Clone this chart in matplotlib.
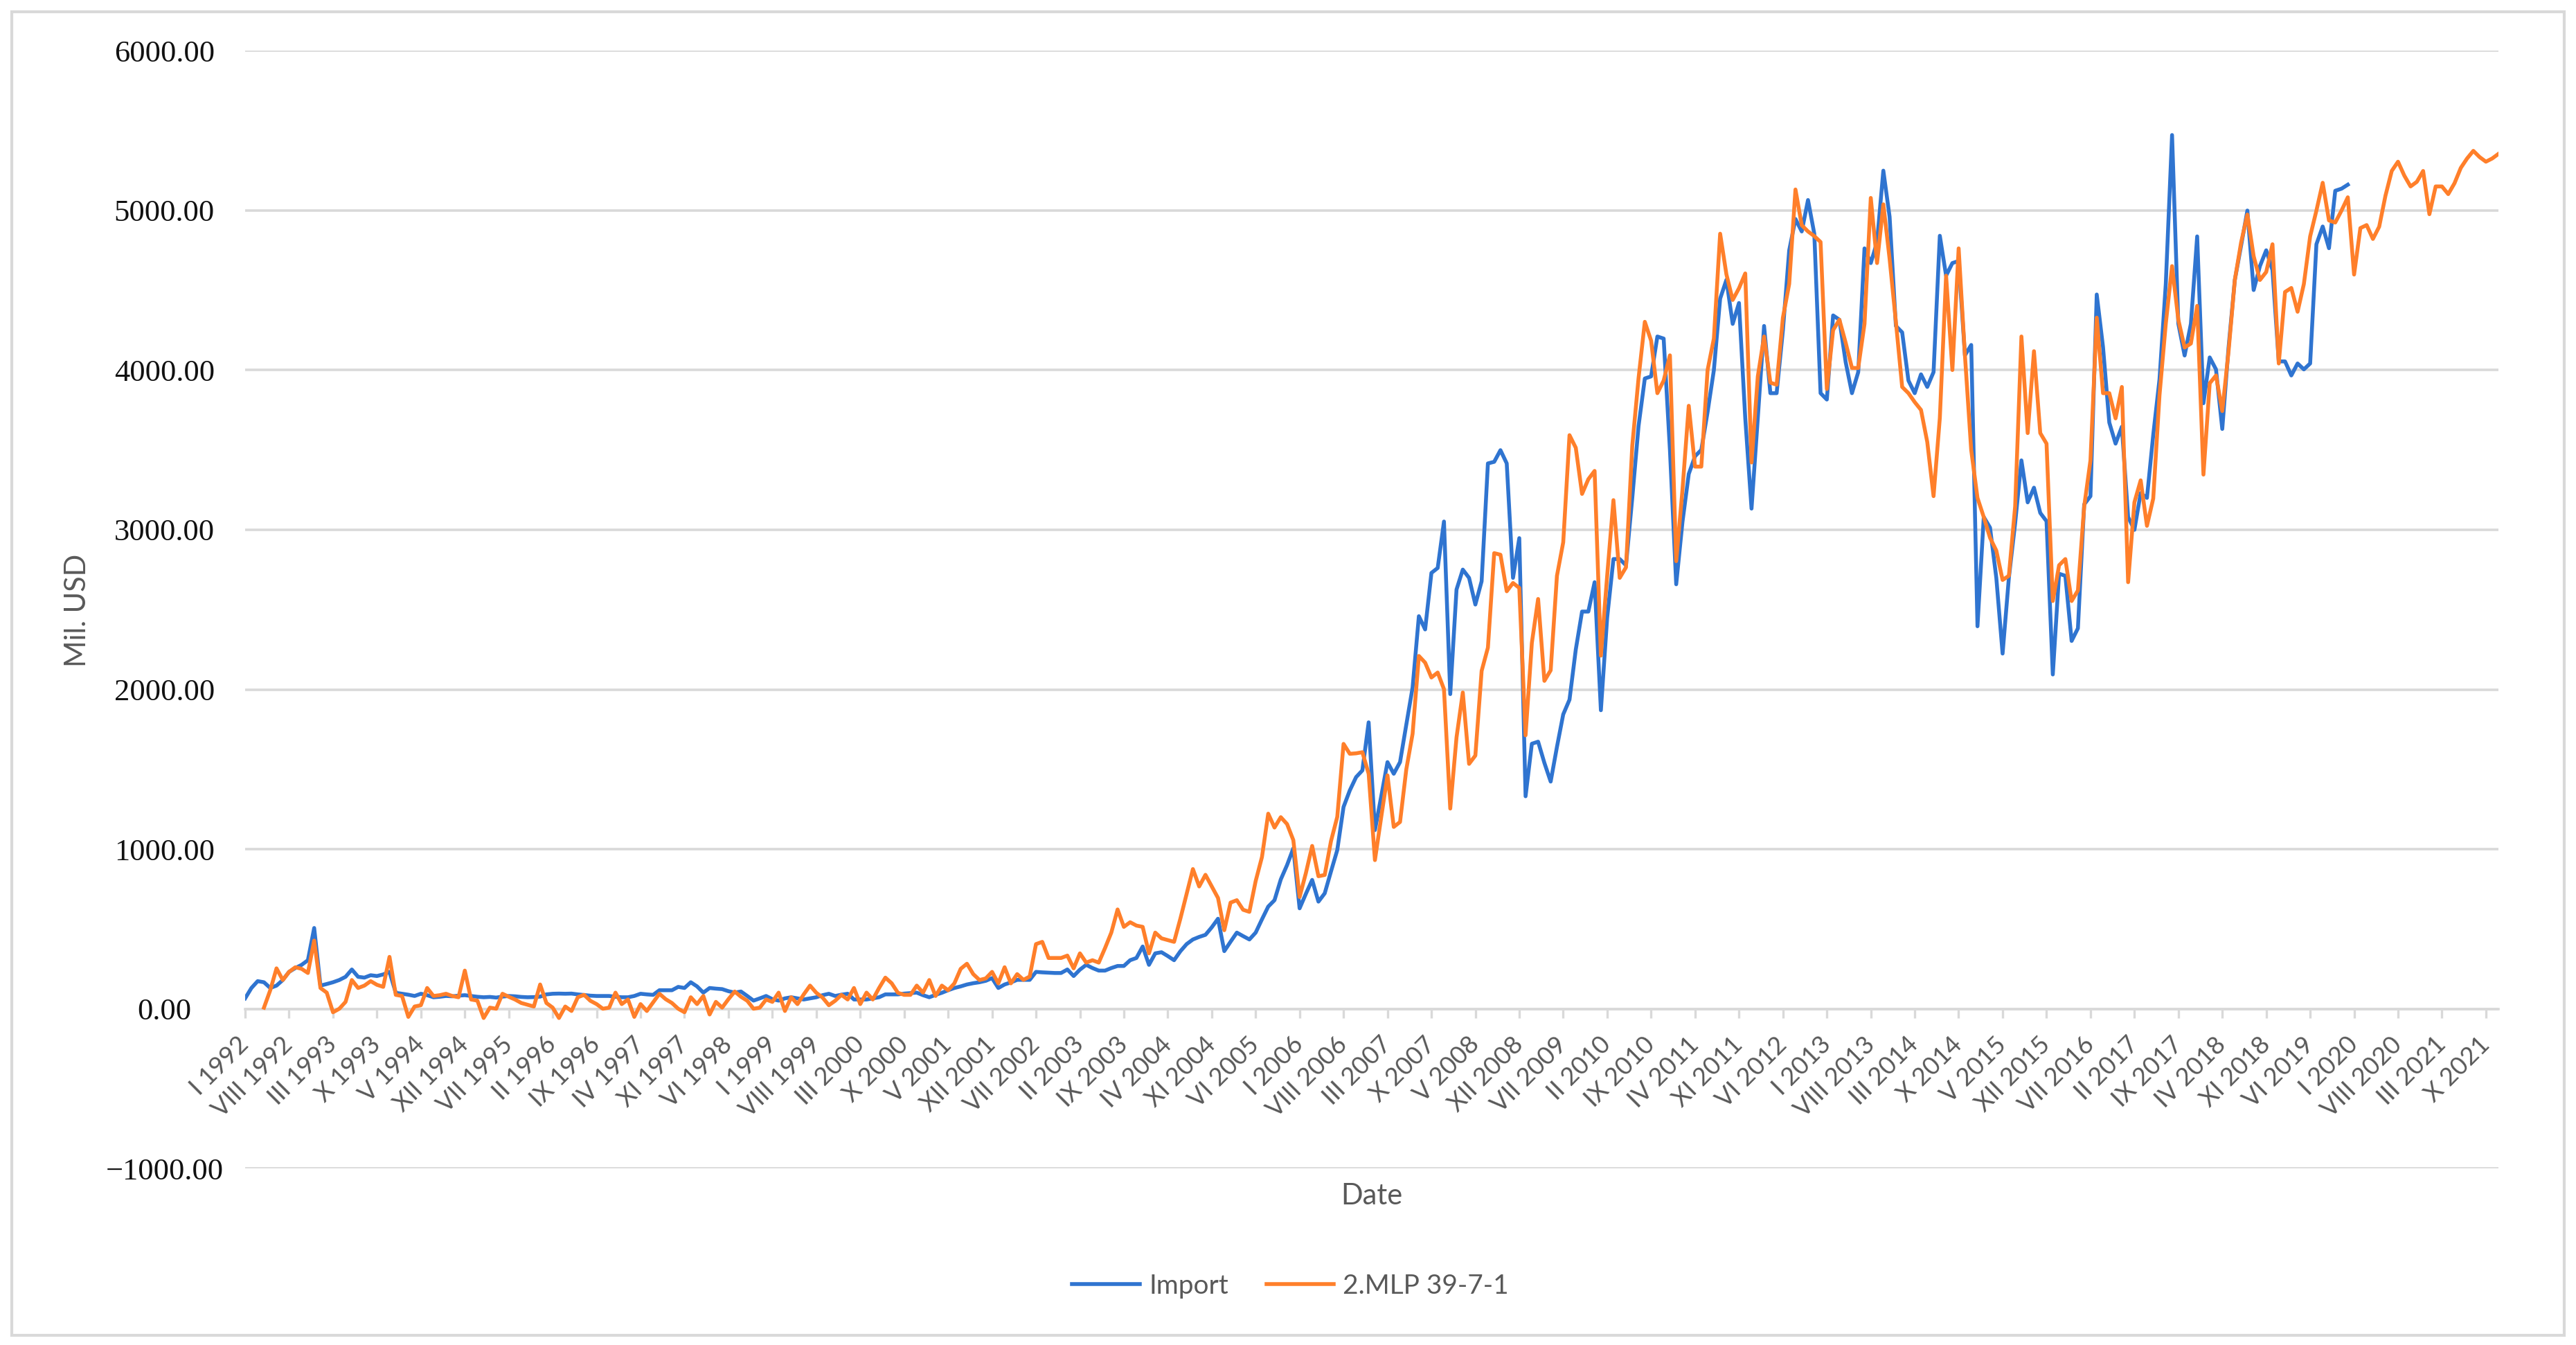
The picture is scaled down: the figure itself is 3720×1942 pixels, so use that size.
import numpy as np
import matplotlib
matplotlib.use('Agg')
import matplotlib.pyplot as plt
from matplotlib.patches import Rectangle

# monthly series, I 1992 .. XII 2021 (360 months)
ROMAN = ['I', 'II', 'III', 'IV', 'V', 'VI', 'VII', 'VIII', 'IX', 'X', 'XI', 'XII']
FIRST_YEAR = 1992
N_MONTHS = 360
LABEL_STEP = 7

import_vals = [
    65, 130, 173, 166, 130, 145, 180, 231, 255, 275, 304, 506, 145, 155, 166, 180, 200, 246, 200, 195,
    210, 205, 215, 231, 100, 94, 88, 80, 94, 85, 72, 75, 80, 78, 82, 85, 80, 75, 72, 74,
    70, 76, 80, 78, 74, 72, 73, 76, 90, 94, 95, 94, 95, 90, 86, 82, 80, 80, 80, 75,
    72, 72, 80, 94, 90, 87, 116, 116, 116, 137, 130, 166, 140, 101, 130, 126, 123, 110, 101, 108,
    80, 51, 65, 80, 60, 51, 65, 72, 65, 58, 65, 72, 85, 94, 80, 88, 94, 58, 58, 58,
    65, 72, 90, 90, 90, 95, 98, 101, 85, 72, 87, 100, 116, 130, 140, 152, 160, 166, 175, 192,
    130, 152, 165, 181, 181, 181, 231, 228, 226, 224, 224, 246, 205, 245, 275, 255, 239, 239, 255, 268,
    268, 304, 318, 390, 275, 347, 354, 330, 304, 360, 405, 434, 450, 463, 510, 564, 361, 420, 477, 455,
    434, 477, 560, 640, 680, 810, 900, 1005, 629, 720, 807, 671, 723, 860, 994, 1264, 1368, 1451, 1493, 1794,
    1119, 1330, 1545, 1472, 1545, 1780, 2012, 2459, 2376, 2730, 2761, 3052, 1971, 2626, 2751, 2699, 2532, 2678, 3416, 3426,
    3499, 3416, 2699, 2948, 1331, 1660, 1673, 1540, 1423, 1640, 1844, 1936, 2250, 2488, 2488, 2672, 1870, 2450, 2817, 2817,
    2778, 3200, 3650, 3948, 3961, 4211, 4198, 3500, 2659, 3050, 3350, 3461, 3501, 3738, 4000, 4448, 4566, 4290, 4421, 3700,
    3133, 3700, 4277, 3856, 3856, 4250, 4750, 4947, 4869, 5066, 4855, 3856, 3816, 4343, 4316, 4050, 3856, 3988, 4763, 4671,
    4803, 5250, 4961, 4277, 4237, 3935, 3856, 3974, 3895, 3988, 4842, 4592, 4671, 4684, 4093, 4158, 2396, 3080, 3014, 2699,
    2225, 2699, 3041, 3435, 3172, 3264, 3106, 3054, 2094, 2725, 2712, 2304, 2383, 3159, 3211, 4474, 4145, 3672, 3540, 3646,
    3080, 3000, 3230, 3200, 3594, 3943, 4540, 5473, 4291, 4092, 4291, 4838, 3793, 4080, 4005, 3632, 4142, 4565, 4780, 5000,
    4502, 4652, 4751, 4627, 4055, 4055, 3967, 4042, 4005, 4042, 4789, 4900, 4764, 5124, 5137, 5162,
]

mlp_vals = [
    None, None, None, 7, 116, 253, 180, 231, 260, 250, 224, 427, 130, 101, -22, 0, 43, 180, 130, 145,
    173, 150, 137, 325, 87, 80, -51, 14, 22, 130, 80, 85, 94, 80, 72, 239, 58, 51, -58, 7,
    0, 94, 75, 58, 36, 25, 14, 152, 36, 7, -58, 14, -14, 72, 87, 50, 29, 0, 7, 101,
    29, 58, -51, 29, -14, 40, 94, 60, 36, 0, -22, 72, 29, 80, -36, 43, 7, 60, 108, 75,
    50, 0, 7, 58, 43, 101, -14, 72, 29, 90, 145, 100, 70, 22, 50, 87, 58, 130, 29, 101,
    58, 130, 195, 160, 100, 87, 87, 145, 101, 180, 80, 145, 116, 159, 250, 282, 217, 180, 190, 231,
    159, 260, 159, 217, 181, 202, 405, 419, 318, 318, 318, 333, 253, 347, 289, 304, 289, 380, 477, 622,
    513, 542, 521, 513, 347, 477, 441, 430, 419, 564, 720, 875, 766, 839, 766, 694, 492, 665, 680, 620,
    607, 800, 950, 1222, 1135, 1200, 1157, 1056, 700, 850, 1020, 830, 838, 1050, 1202, 1659, 1597, 1600, 1607, 1472,
    931, 1200, 1462, 1139, 1170, 1500, 1722, 2210, 2168, 2075, 2106, 2002, 1254, 1700, 1981, 1534, 1586, 2116, 2262, 2854,
    2844, 2615, 2667, 2636, 1713, 2291, 2567, 2054, 2120, 2712, 2922, 3593, 3514, 3225, 3317, 3369, 2212, 2712, 3186, 2699,
    2765, 3527, 3950, 4303, 4185, 3856, 3935, 4093, 2804, 3251, 3777, 3396, 3396, 4001, 4198, 4855, 4600, 4440, 4513, 4606,
    3422, 3961, 4211, 3922, 3909, 4329, 4540, 5132, 4908, 4869, 4840, 4803, 3882, 4251, 4316, 4172, 4014, 4014, 4290, 5079,
    4671, 5039, 4697, 4303, 3895, 3856, 3800, 3751, 3550, 3211, 3700, 4592, 4001, 4763, 4093, 3500, 3200, 3080, 2950, 2870,
    2686, 2712, 3146, 4211, 3606, 4119, 3606, 3540, 2554, 2778, 2817, 2554, 2620, 3146, 3435, 4329, 3856, 3856, 3698, 3895,
    2672, 3172, 3310, 3025, 3196, 3843, 4291, 4652, 4316, 4142, 4167, 4403, 3346, 3918, 3967, 3744, 4117, 4565, 4800, 4975,
    4714, 4565, 4615, 4789, 4042, 4490, 4515, 4366, 4540, 4838, 5000, 5174, 4938, 4925, 5000, 5083, 4599, 4890, 4909, 4822,
    4899, 5093, 5248, 5306, 5219, 5151, 5180, 5248, 4977, 5151, 5151, 5103, 5171, 5267, 5326, 5374, 5335, 5306, 5326, 5355,
]

y_ticks = [-1000, 0, 1000, 2000, 3000, 4000, 5000, 6000]

BLUE = '#2F74D0'
ORANGE = '#FF7F2A'
GRID = '#D9D9D9'
GRAY_TXT = '#595959'
SANS = ['Lato', 'DejaVu Sans']


def month_label(i):
    return f'{ROMAN[i % 12]} {FIRST_YEAR + i // 12}'


def main():
    W, H, DPI = 3720, 1942, 200
    fig = plt.figure(figsize=(W / DPI, H / DPI), dpi=DPI)

    # axes box in pixels of the reference
    left, right, top, bottom = 354, 3608, 73.5, 1687
    ax = fig.add_axes([left / W, 1 - bottom / H, (right - left) / W, (bottom - top) / H])

    x_imp = np.arange(len(import_vals))
    ax.plot(x_imp, import_vals, color=BLUE, lw=2.0, label='Import', zorder=3)
    mlp = np.array([np.nan if v is None else v for v in mlp_vals], dtype=float)
    ax.plot(np.arange(len(mlp)), mlp, color=ORANGE, lw=2.0, label='2.MLP 39-7-1', zorder=3)

    ax.set_xlim(0, N_MONTHS - 1)
    ax.set_ylim(-1000, 6000)

    # y axis
    ax.set_yticks(y_ticks)
    ax.set_yticklabels([f'{v:.2f}'.replace('-', '\u2212') for v in y_ticks],
                       fontfamily='Liberation Serif', fontsize=16, color='#111111')
    for lbl in ax.get_yticklabels():
        lbl.set_horizontalalignment('center')
    ax.tick_params(axis='y', length=0, pad=42)
    ax.grid(axis='y', color=GRID, lw=1.3, zorder=0)
    ax.set_axisbelow(True)

    # x axis sits at y = 0
    for s in ['left', 'right', 'top']:
        ax.spines[s].set_visible(False)
    ax.spines['bottom'].set_position(('data', 0))
    ax.spines['bottom'].set_color(GRID)
    ax.spines['bottom'].set_linewidth(1.3)

    xt = list(range(0, N_MONTHS, LABEL_STEP))
    ax.set_xticks(xt)
    ax.set_xticklabels([month_label(i) for i in xt], rotation=45, ha='right', va='center',
                       rotation_mode='anchor', fontfamily=SANS, fontsize=13, color=GRAY_TXT)
    ax.tick_params(axis='x', direction='out', length=4.7, width=1.2, color=GRID, pad=12)

    ax.set_xlabel('Date', fontfamily=SANS, fontsize=15, color=GRAY_TXT, va='center')
    ax.xaxis.set_label_coords(0.5, -0.0248)
    ax.set_ylabel('Mil. USD', fontfamily=SANS, fontsize=15, color=GRAY_TXT, va='center')
    ax.yaxis.set_label_coords(-0.0744, 0.499)

    leg = fig.legend(loc='center', bbox_to_anchor=(0.501, 1 - 1857 / H), ncol=2, frameon=False,
                     prop={'family': SANS, 'size': 14}, handlelength=2.5, handletextpad=0.35,
                     columnspacing=1.4)
    for t in leg.get_texts():
        t.set_color(GRAY_TXT)

    # outer chart border
    fig.patches.append(Rectangle((17 / W, 1 - 1928 / H), (3703 - 17) / W, (1928 - 17) / H,
                                 transform=fig.transFigure, fill=False, ec=GRID, lw=1.5))

    fig.savefig('out.png', dpi=DPI, facecolor='white')


if __name__ == '__main__':
    main()
